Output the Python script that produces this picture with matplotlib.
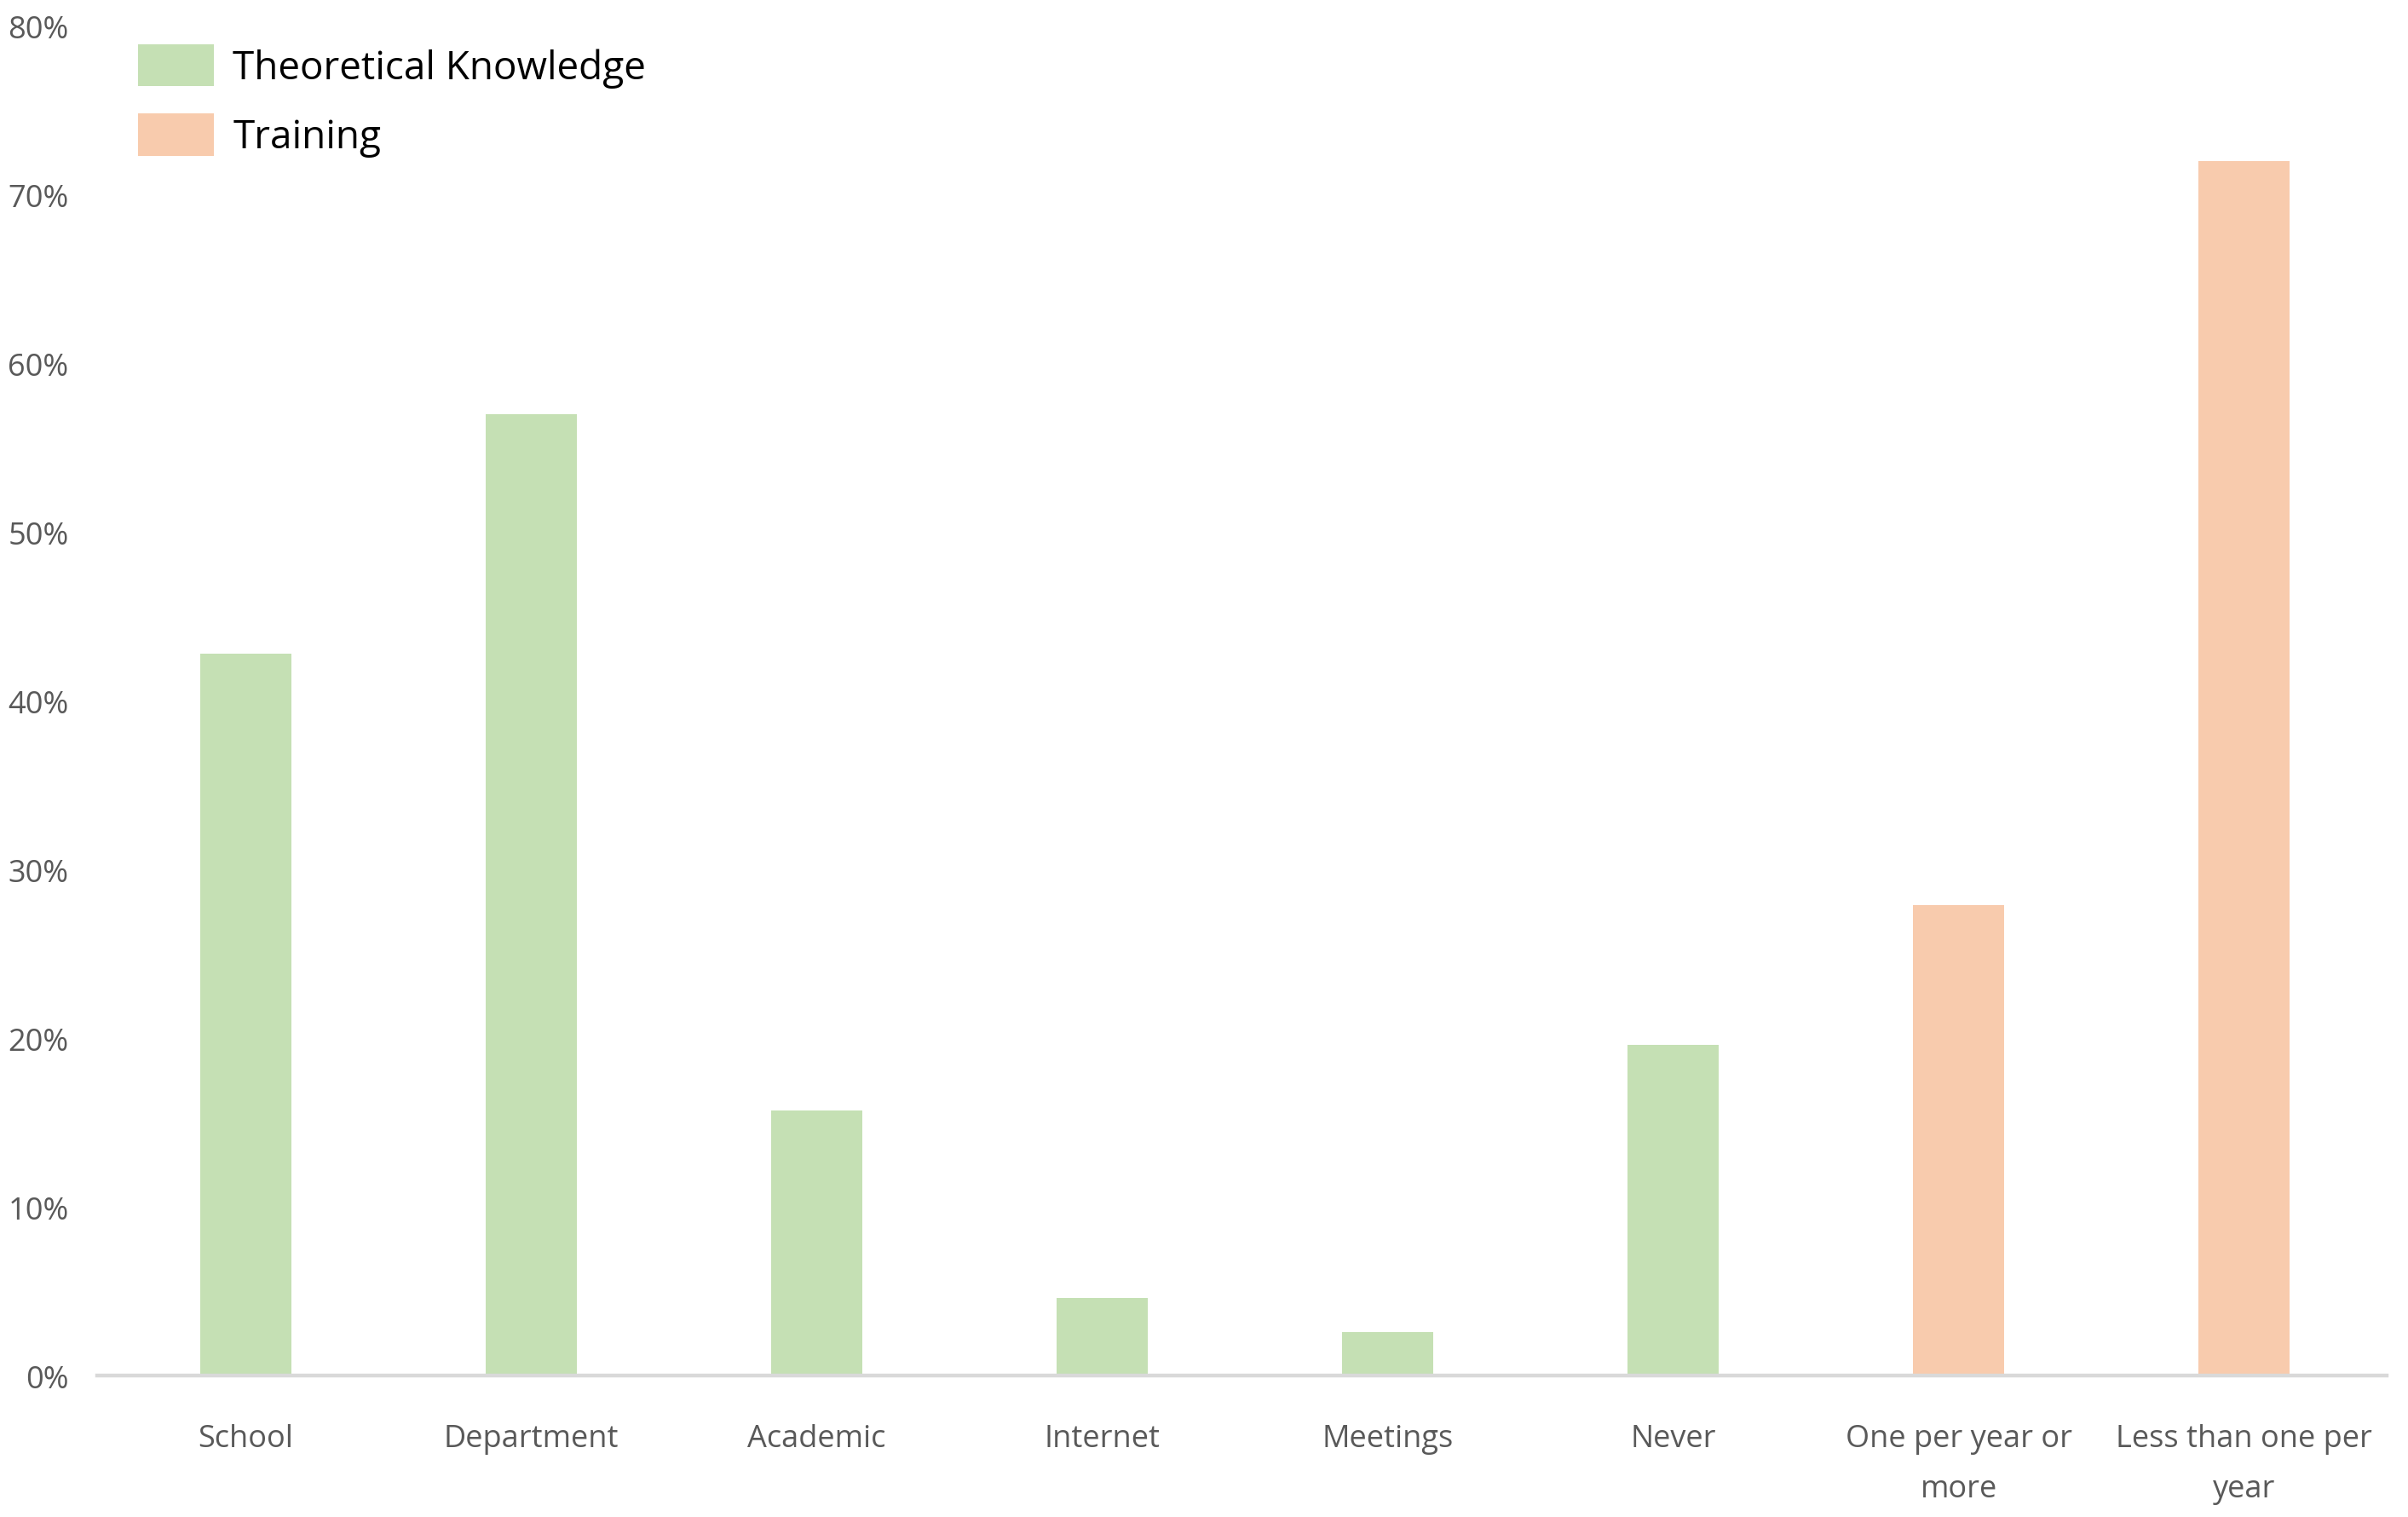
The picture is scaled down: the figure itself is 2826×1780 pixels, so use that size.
import matplotlib
matplotlib.use('Agg')
import matplotlib.pyplot as plt
from matplotlib.patches import Patch
from matplotlib.ticker import PercentFormatter

# data
categories = ['School', 'Department', 'Academic', 'Internet', 'Meetings', 'Never',
              'One per year or\nmore', 'Less than one per\nyear']
values = [42.8, 57.0, 15.7, 4.6, 2.6, 19.6, 27.9, 72.0]
groups = ['knowledge'] * 6 + ['training'] * 2
series_labels = ['Theoretical Knowledge', 'Training']

green = '#C5E0B4'
orange = '#F8CBAD'
colors = [green if g == 'knowledge' else orange for g in groups]

plt.rcParams['font.family'] = ['Open Sans', 'DejaVu Sans']

fig = plt.figure(figsize=(28.26, 17.81), dpi=100)
ax = fig.add_axes([0.0403, 0.0932, 0.951, 0.889])

x = range(len(categories))
ax.bar(x, values, width=0.32, color=colors, zorder=2)

ax.set_ylim(0, 80)
ax.set_xlim(-0.52, 7.5)
ax.set_yticks(range(0, 81, 10))
ax.yaxis.set_major_formatter(PercentFormatter(decimals=0))
ax.set_xticks(list(x))
ax.set_xticklabels(categories, linespacing=1.85)

for s in ['top', 'left', 'right']:
    ax.spines[s].set_visible(False)
ax.spines['bottom'].set_color('#D9D9D9')
ax.spines['bottom'].set_linewidth(3.2)
ax.spines['bottom'].set_zorder(3)

ax.tick_params(axis='both', length=0, labelsize=26, labelcolor='#595959')
ax.tick_params(axis='x', pad=40)
ax.tick_params(axis='y', pad=24)

handles = [Patch(facecolor=green, edgecolor='none'), Patch(facecolor=orange, edgecolor='none')]
fig.legend(handles, series_labels, loc='upper left', bbox_to_anchor=(0.0573, 0.9705),
           frameon=False, fontsize=33, borderpad=0, borderaxespad=0,
           handlelength=1.95, handleheight=1.3, handletextpad=0.48, labelspacing=0.65)

fig.savefig('out.png', dpi=100)
